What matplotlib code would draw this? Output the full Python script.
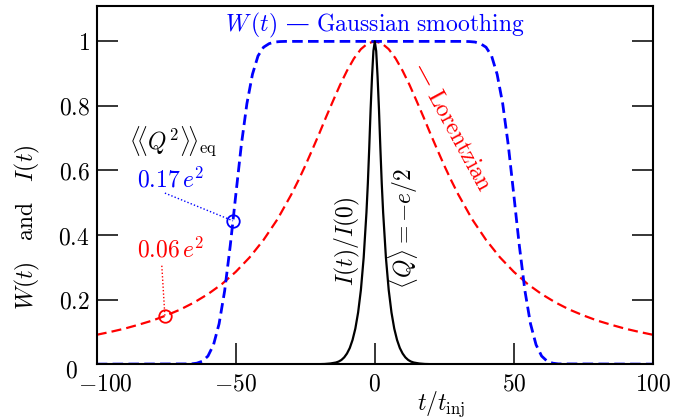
import matplotlib
matplotlib.use("Agg")
import matplotlib.pyplot as plt
from matplotlib.transforms import ScaledTranslation

plt.rcParams["mathtext.fontset"] = "cm"
plt.rcParams["font.family"] = ["DejaVu Serif"]

# values
t_gauss = [-100, -66, -64, -62, -60, -58, -56, -54, -52, -51, -50, -48, -46, -44,
           -42, -40, -38, -36, -34, -32,
           32, 34, 36, 38, 40, 42, 44, 46, 48, 50, 51, 52, 54, 56, 58, 60, 62,
           64, 66, 100]
w_gauss = [0.0, 0.0007, 0.003, 0.009, 0.025, 0.060, 0.125, 0.227, 0.366, 0.444,
           0.524, 0.679, 0.807, 0.898, 0.955, 0.982, 0.993, 0.998, 0.9995, 1.0,
           1.0, 0.9995, 0.998, 0.993, 0.982, 0.955, 0.898, 0.807, 0.679, 0.524,
           0.444, 0.366, 0.227, 0.125, 0.060, 0.025, 0.009, 0.003, 0.0007, 0.0]

t_lor = [-100, -95, -90, -85, -80, -75, -70, -65, -60, -55, -50, -45, -40, -35,
         -30, -27.5, -25, -22.5, -20, -17.5, -15, -12.5, -10, -7.5, -5, -2.5, 0,
         2.5, 5, 7.5, 10, 12.5, 15, 17.5, 20, 22.5, 25, 27.5, 30, 35, 40, 45,
         50, 55, 60, 65, 70, 75, 80, 85, 90, 95, 100]
w_lor = [0.091, 0.100, 0.110, 0.122, 0.135, 0.151, 0.169, 0.191, 0.217, 0.248,
         0.286, 0.331, 0.385, 0.449, 0.526, 0.569, 0.615, 0.664, 0.714, 0.766,
         0.816, 0.865, 0.909, 0.947, 0.976, 0.994, 1.0,
         0.994, 0.976, 0.947, 0.909, 0.865, 0.816, 0.766, 0.714, 0.664, 0.615,
         0.569, 0.526, 0.449, 0.385, 0.331, 0.286, 0.248, 0.217, 0.191, 0.169,
         0.151, 0.135, 0.122, 0.110, 0.100, 0.091]

t_cur = [-100, -20, -18, -16, -14, -13, -12, -11, -10, -9, -8, -7, -6, -5, -4,
         -3, -2.5, -2, -1.5, -1, -0.5, 0, 0.5, 1, 1.5, 2, 2.5, 3, 4, 5, 6, 7,
         8, 9, 10, 11, 12, 13, 14, 16, 18, 20, 100]
i_cur = [0.0, 0.0, 0.0005, 0.002, 0.005, 0.008, 0.013, 0.021, 0.033, 0.05,
         0.075, 0.11, 0.16, 0.23, 0.33, 0.47, 0.56, 0.67, 0.79, 0.89, 0.97, 1.0,
         0.97, 0.89, 0.79, 0.67, 0.56, 0.47, 0.33, 0.23, 0.16, 0.11, 0.075,
         0.05, 0.033, 0.021, 0.013, 0.008, 0.005, 0.002, 0.0005, 0.0, 0.0]

# <<Q^2>>_eq markers: (t, W) on the blue and red curves
mark_t = [-51.0, -75.5]
mark_w = [0.444, 0.150]
mark_labels = [r"$0.17\,e^2$", r"$0.06\,e^2$"]

xticks = [-100, -50, 0, 50, 100]
xticklabels = [r"$-100$", r"$-50$", r"$0$", r"$50$", r"$100$"]
yticks = [0, 0.2, 0.4, 0.6, 0.8, 1.0]
yticklabels = [r"$0$", r"$0.2$", r"$0.4$", r"$0.6$", r"$0.8$", r"$1$"]

BLUE = "#0000ff"
RED = "#ff0000"
FS = 17

fig = plt.figure(figsize=(6.96, 4.2), dpi=100)
ax = fig.add_axes([0.139, 0.133, 0.799, 0.853])

ax.plot(t_lor, w_lor, color=RED, lw=1.6, dashes=(4.5, 2.3))
ax.plot(t_gauss, w_gauss, color=BLUE, lw=2.0, dashes=(3.8, 1.9))
ax.plot(t_cur, i_cur, color="black", lw=1.6)

# circles and dotted leaders
ax.plot(mark_t[0], mark_w[0], "o", ms=9, mfc="none", mec=BLUE, mew=1.3)
ax.plot(mark_t[1], mark_w[1], "o", ms=9, mfc="none", mec=RED, mew=1.3)
ax.plot([-75.5, mark_t[0]], [0.530, mark_w[0]], color=BLUE, lw=1.0,
        linestyle=(0, (1, 1.5)))
ax.plot([-76.6, mark_t[1]], [0.305, mark_w[1]], color=RED, lw=1.0,
        linestyle=(0, (1, 1.5)))

ax.text(-88.5, 0.688, r"$\langle\!\langle Q^2\rangle\!\rangle_{\rm eq}$",
        fontsize=FS, ha="left", va="center")
ax.text(-85.6, 0.548, mark_labels[0], color=BLUE, fontsize=FS,
        ha="left", va="baseline")
ax.text(-85.6, 0.330, mark_labels[1], color=RED, fontsize=FS,
        ha="left", va="baseline")

ax.text(-54.0, 1.03, r"$W\,(t)$ — $\mathrm{Gaussian\ smoothing}$", color=BLUE,
        fontsize=FS, ha="left", va="baseline")
ax.text(27.5, 0.735, r"— $\mathrm{Lorentzian}$", color=RED, fontsize=FS,
        rotation=-61.5, ha="center", va="center")
ax.text(-9.7, 0.38, r"$I(t)/I(0)$", fontsize=FS, rotation=90,
        ha="center", va="center")
ax.text(10.1, 0.42, r"$\langle Q\rangle = -e/2$", fontsize=FS, rotation=90,
        ha="center", va="center")

ax.set_xlim(-100, 100)
ax.set_ylim(0, 1.11)
ax.set_xticks(xticks, xticklabels)
ax.set_yticks(yticks, yticklabels)
ax.tick_params(direction="in", length=15, width=1.1, labelsize=FS, pad=6)
ax.tick_params(axis="y", right=True, pad=5)
for s in ax.spines.values():
    s.set_linewidth(1.5)

# in the reference the corner labels are nudged apart
xl0 = ax.get_xticklabels()[0]
xl0.set_transform(xl0.get_transform()
                  + ScaledTranslation(9 / 100, 0, fig.dpi_scale_trans))
yl0 = ax.get_yticklabels()[0]
yl0.set_transform(yl0.get_transform()
                  + ScaledTranslation(-12 / 100, -4 / 100, fig.dpi_scale_trans))

ax.set_ylabel(r"$W(t)\ \ \ \mathrm{and}\ \ \ I(t)$", fontsize=FS)
ax.yaxis.set_label_coords(-0.099, 0.383)
ax.set_xlabel(r"$t/t_{\rm inj}$", fontsize=FS)
ax.xaxis.set_label_coords(0.62, -0.072)

fig.savefig("out.png", dpi=100)
